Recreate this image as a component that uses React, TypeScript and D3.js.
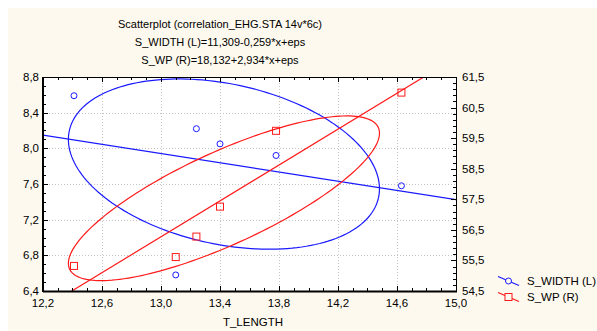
import React, { useEffect, useRef } from 'react';
import * as d3 from 'd3';

const W = 597;
const H = 331;
const plot = { left: 43, right: 456, top: 77, bottom: 291 };

// T_LENGTH (shared x)
const tLength = [12.41, 13.1, 13.24, 13.4, 13.78, 14.63];
// S_WIDTH, left axis
const sWidth = [8.59, 6.58, 8.22, 8.05, 7.92, 7.58];
// S_WP, right axis
const sWp = [55.32, 55.61, 56.28, 57.26, 59.74, 60.99];

const seriesNames = ['S_WIDTH (L)', 'S_WP (R)'];
const intercepts = [11.309, 18.132];
const slopes = [-0.259, 2.934];
const ellipseTilt = [-0.29, 0.79];
const ellipseCoef = 0.95;

const titleLines = ['Scatterplot (correlation_EHG.STA 14v*6c)'];

const xDomain = [12.2, 15.0];
const leftDomain = [6.4, 8.8];
const rightDomain = [54.5, 61.5];

const comma = (v: number, digits: number) => v.toFixed(digits).replace('.', ',');

const App = () => {
  const svgRef = useRef<SVGSVGElement>(null);

  useEffect(() => {
    const svg = d3.select(svgRef.current);
    svg.selectAll('*').remove();

    const font = "'Liberation Sans', Arial, sans-serif";

    svg.append('rect').attr('x', 8).attr('y', 8).attr('width', W - 8).attr('height', H - 8).attr('fill', '#fdf9ee');

    const x = d3.scaleLinear().domain(xDomain).range([plot.left, plot.right]);
    const yL = d3.scaleLinear().domain(leftDomain).range([plot.bottom, plot.top]);
    const yR = d3.scaleLinear().domain(rightDomain).range([plot.bottom, plot.top]);

    svg.append('rect')
      .attr('x', plot.left).attr('y', plot.top)
      .attr('width', plot.right - plot.left).attr('height', plot.bottom - plot.top)
      .attr('fill', '#ffffff');

    const xMajor = d3.range(8).map(i => xDomain[0] + 0.4 * i);
    const xMinor = d3.range(29).map(i => xDomain[0] + 0.1 * i);
    const lMajor = d3.range(7).map(i => leftDomain[0] + 0.4 * i);
    const lMinor = d3.range(25).map(i => leftDomain[0] + 0.1 * i);
    const rMajor = d3.range(8).map(i => rightDomain[0] + i);
    const rMinor = d3.range(36).map(i => rightDomain[0] + 0.2 * i);

    // grid
    const grid = svg.append('g').attr('stroke', '#c4c4c4').attr('stroke-width', 1).attr('stroke-dasharray', '1,2');
    xMajor.slice(1, -1).forEach(v => {
      grid.append('line').attr('x1', Math.round(x(v)) + 0.5).attr('x2', Math.round(x(v)) + 0.5)
        .attr('y1', plot.top).attr('y2', plot.bottom);
    });
    lMajor.slice(1, -1).forEach(v => {
      grid.append('line').attr('y1', Math.round(yL(v)) + 0.5).attr('y2', Math.round(yL(v)) + 0.5)
        .attr('x1', plot.left).attr('x2', plot.right);
    });

    // clip
    svg.append('clipPath').attr('id', 'pc').append('rect')
      .attr('x', plot.left).attr('y', plot.top)
      .attr('width', plot.right - plot.left).attr('height', plot.bottom - plot.top);

    const colors = ['#1a1aff', '#ff1a1a'];
    const ys = [sWidth, sWp];
    const scales = [yL, yR];

    const marks = svg.append('g').attr('clip-path', 'url(#pc)');

    ys.forEach((vals, si) => {
      const sc = scales[si];
      // regression line
      marks.append('line')
        .attr('x1', x(xDomain[0])).attr('y1', sc(intercepts[si] + slopes[si] * xDomain[0]))
        .attr('x2', x(xDomain[1])).attr('y2', sc(intercepts[si] + slopes[si] * xDomain[1]))
        .attr('stroke', colors[si]).attr('stroke-width', 1.2);

      // ellipse
      const mx = d3.mean(tLength) as number;
      const my = d3.mean(vals) as number;
      const ax = ellipseCoef * ((d3.max(tLength) as number) - (d3.min(tLength) as number)) / 2;
      const by = ellipseCoef * ((d3.max(vals) as number) - (d3.min(vals) as number)) / 2;
      const phi = Math.asin(ellipseTilt[si]);
      const pts = d3.range(0, 361, 2).map(deg => {
        const t = (deg * Math.PI) / 180;
        return [x(mx + ax * Math.cos(t)), sc(my + by * Math.sin(t + phi))] as [number, number];
      });
      marks.append('path')
        .attr('d', d3.line()(pts))
        .attr('fill', 'none').attr('stroke', colors[si]).attr('stroke-width', 1.2);
    });

    // points
    tLength.forEach((tv, i) => {
      svg.append('circle').attr('cx', x(tv)).attr('cy', yL(sWidth[i])).attr('r', 3)
        .attr('fill', 'none').attr('stroke', colors[0]).attr('stroke-width', 1);
      svg.append('rect').attr('x', x(tv) - 3.5).attr('y', yR(sWp[i]) - 3.5).attr('width', 7).attr('height', 7)
        .attr('fill', 'none').attr('stroke', colors[1]).attr('stroke-width', 1);
    });

    // frame and ticks
    const axis = svg.append('g').attr('stroke', '#000').attr('stroke-width', 1);
    axis.append('rect').attr('x', plot.left + 0.5).attr('y', plot.top + 0.5)
      .attr('width', plot.right - plot.left).attr('height', plot.bottom - plot.top)
      .attr('fill', 'none').attr('stroke', '#000');
    axis.append('line').attr('x1', plot.left).attr('x2', plot.left).attr('y1', plot.top).attr('y2', plot.bottom + 1).attr('stroke-width', 2);
    axis.append('line').attr('x1', plot.left).attr('x2', plot.right + 1).attr('y1', plot.bottom + 0.5).attr('y2', plot.bottom + 0.5).attr('stroke-width', 2);

    const tickX = (v: number, len: number) => {
      const px = Math.round(x(v)) + 0.5;
      axis.append('line').attr('x1', px).attr('x2', px).attr('y1', plot.bottom).attr('y2', plot.bottom - len);
      axis.append('line').attr('x1', px).attr('x2', px).attr('y1', plot.top).attr('y2', plot.top + len);
    };
    xMinor.forEach(v => tickX(v, 3));
    xMajor.forEach(v => tickX(v, 5));
    lMinor.forEach(v => {
      const py = Math.round(yL(v)) + 0.5;
      axis.append('line').attr('x1', plot.left).attr('x2', plot.left + 3).attr('y1', py).attr('y2', py);
    });
    lMajor.forEach(v => {
      const py = Math.round(yL(v)) + 0.5;
      axis.append('line').attr('x1', plot.left).attr('x2', plot.left + 5).attr('y1', py).attr('y2', py);
    });
    rMinor.forEach(v => {
      const py = Math.round(yR(v)) + 0.5;
      axis.append('line').attr('x1', plot.right).attr('x2', plot.right - 3).attr('y1', py).attr('y2', py);
    });
    rMajor.forEach(v => {
      const py = Math.round(yR(v)) + 0.5;
      axis.append('line').attr('x1', plot.right).attr('x2', plot.right - 5).attr('y1', py).attr('y2', py);
    });

    const text = svg.append('g').attr('font-family', font).attr('font-size', 11.5).attr('fill', '#000');

    xMajor.forEach(v => {
      text.append('text').attr('x', x(v)).attr('y', plot.bottom + 16).attr('text-anchor', 'middle').text(comma(v, 1));
    });
    lMajor.forEach(v => {
      text.append('text').attr('x', plot.left - 4).attr('y', yL(v) + 4).attr('text-anchor', 'end').text(comma(v, 1));
    });
    rMajor.forEach(v => {
      text.append('text').attr('x', plot.right + 6).attr('y', yR(v) + 4).attr('text-anchor', 'start').text(comma(v, 1));
    });

    text.append('text').attr('x', 253).attr('y', 326).attr('text-anchor', 'middle').text('T_LENGTH');

    const titles = [
      titleLines[0],
      ...seriesNames.map((n, i) => {
        const s = slopes[i];
        return `${n.replace(' ', ' ')}=${comma(intercepts[i], 3)}${s < 0 ? '-' : '+'}${comma(Math.abs(s), 3)}*x+eps`;
      }),
    ];
    titles.forEach((t, i) => {
      text.append('text').attr('x', 220).attr('y', 28 + i * 18).attr('text-anchor', 'middle').attr('font-size', 11).text(t);
    });

    // legend
    seriesNames.forEach((n, i) => {
      const ly = 281 + i * 16;
      const g = svg.append('g');
      g.append('line').attr('x1', 498).attr('y1', ly - 4.5).attr('x2', 519).attr('y2', ly + 4.5)
        .attr('stroke', colors[i]).attr('stroke-width', 1.2);
      if (i === 0) {
        g.append('circle').attr('cx', 508.5).attr('cy', ly).attr('r', 3)
          .attr('fill', '#fdf9ee').attr('stroke', colors[i]);
      } else {
        g.append('rect').attr('x', 505).attr('y', ly - 3.5).attr('width', 7).attr('height', 7)
          .attr('fill', '#fdf9ee').attr('stroke', colors[i]);
      }
      text.append('text').attr('x', 527).attr('y', ly + 4).text(n);
    });
  }, []);

  return (
    <svg ref={svgRef} width={W} height={H} style={{ position: 'absolute', left: 0, top: 0 }} />
  );
};

export default App;
